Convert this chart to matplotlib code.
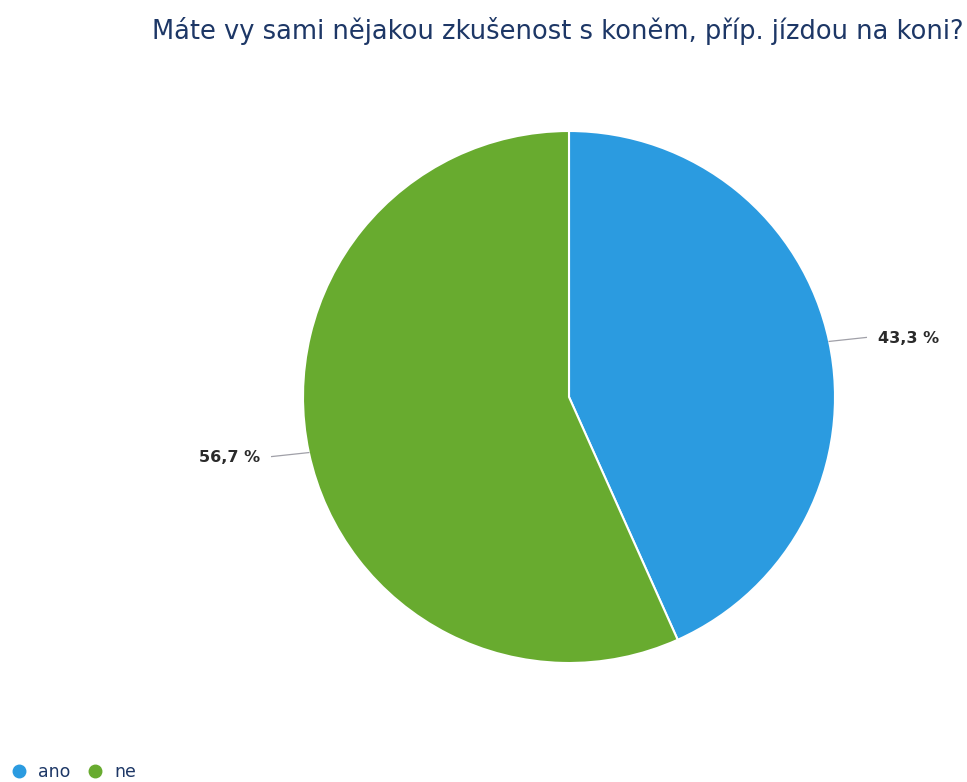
import numpy as np
import matplotlib
matplotlib.use("Agg")
import matplotlib.pyplot as plt
from matplotlib.lines import Line2D

# Survey answers and shares (%)
categories = ["ano", "ne"]
values = [43.3, 56.7]
labels = ["43,3 %", "56,7 %"]
colors = ["#2b9be0", "#68ab2f"]
title = "Máte vy sami nějakou zkušenost s koněm, příp. jízdou na koni?"

W, H = 967, 782
fig = plt.figure(figsize=(W / 100, H / 100), dpi=100)
fig.patch.set_facecolor("white")

cx, cy, r = 569, 397, 266
ax = fig.add_axes([(cx - r) / W, (H - cy - r) / H, 2 * r / W, 2 * r / H])

wedges, _ = ax.pie(values, colors=colors, startangle=90, counterclock=False,
                   radius=1.0, wedgeprops=dict(edgecolor="white", linewidth=1.5))
ax.set_xlim(-1, 1)
ax.set_ylim(-1, 1)
ax.set_aspect("equal")
ax.axis("off")

for w, lab in zip(wedges, labels):
    mid = np.deg2rad((w.theta1 + w.theta2) / 2)
    x0, y0 = np.cos(mid), np.sin(mid)
    side = 1 if x0 > 0 else -1
    x1, y1 = x0 + side * 0.14, y0 + side * 0.015
    ax.plot([x0, x1], [y0, y1], color="#a0a0a8", lw=0.9, clip_on=False)
    ax.text(x1 + side * 0.045, y1 - 0.005, lab, ha="left" if side > 0 else "right",
            va="center", fontsize=11.5, color="#2a2a2a", fontweight="bold")

fig.text(558 / W, 1 - 31 / H, title, ha="center", va="center",
         fontsize=18.5, color="#1d3766")

handles = [Line2D([], [], marker="o", linestyle="none", markersize=9,
                  markerfacecolor=c, markeredgecolor=c) for c in colors]
fig.legend(handles, categories, loc="lower left", bbox_to_anchor=(0.0, -0.012),
           ncol=2, frameon=False, fontsize=12.5, handlelength=1.0, handletextpad=0.6,
           columnspacing=0.9, labelcolor="#1d3766", borderaxespad=0.2)

fig.savefig("out.png", dpi=100, facecolor="white")
